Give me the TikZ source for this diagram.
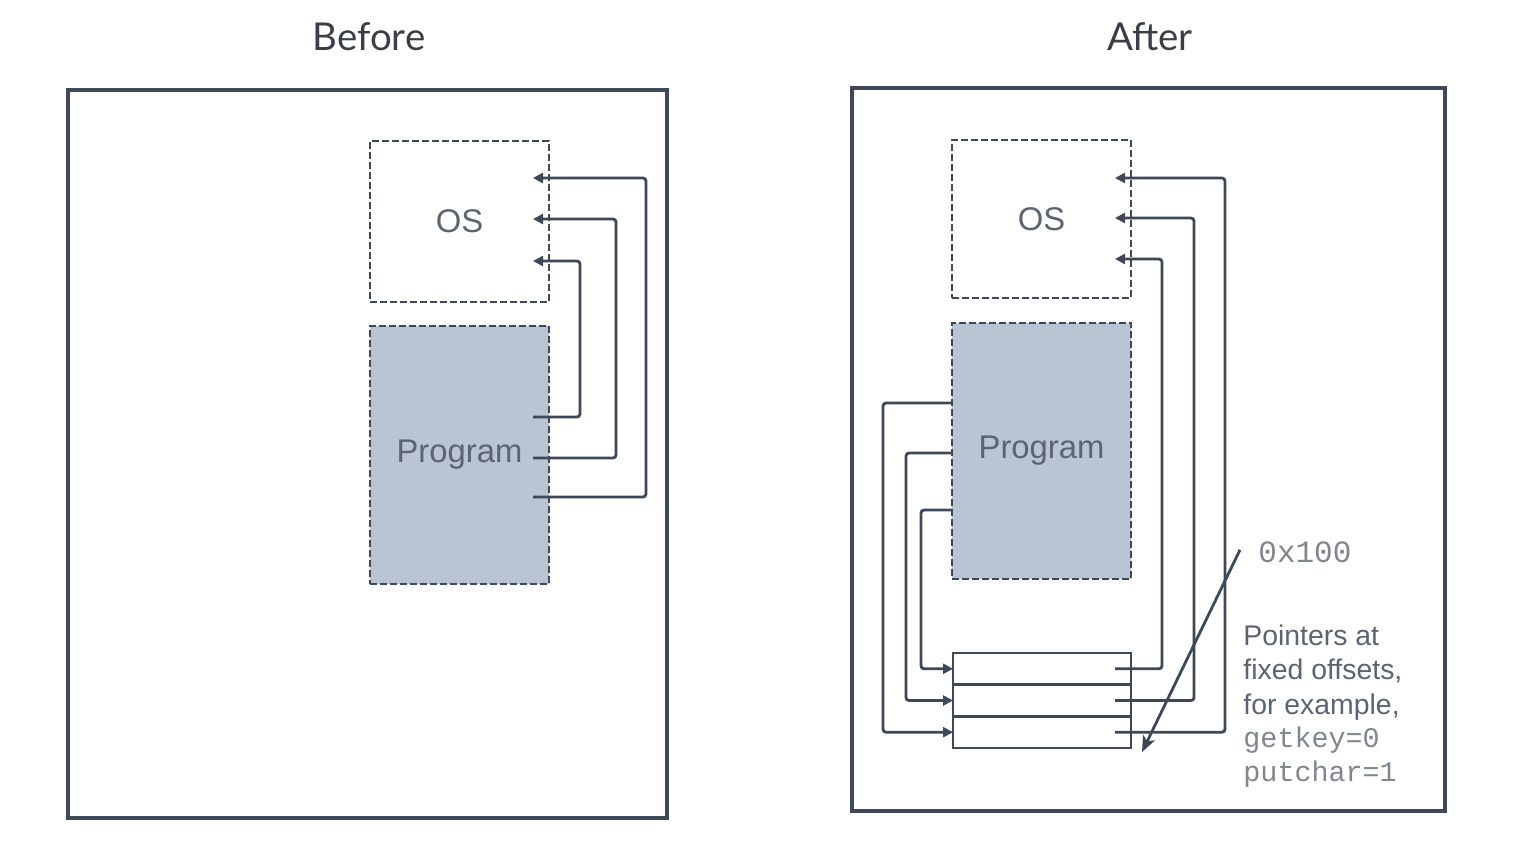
\documentclass[tikz,border=0pt]{standalone}
\usepackage{fontspec}
\setmainfont{Liberation Sans}
\newfontfamily\titlefont{Lato}
\newfontfamily\monofont{Liberation Mono}
\usetikzlibrary{arrows.meta,calc}
\definecolor{framec}{HTML}{3E4858}
\definecolor{progfill}{HTML}{BAC5D3}
\definecolor{lblc}{HTML}{5C6472}
\definecolor{monoc}{HTML}{80868F}
\definecolor{titlec}{HTML}{3A3F47}
\begin{document}
\begin{tikzpicture}[x=0.5pt,y=-0.5pt,
  panel/.style={draw=framec,line width=2.1pt,fill=white,inner sep=0pt,outer sep=0pt},
  membox/.style={draw=framec,line width=1.4pt,dash pattern=on 3.3pt off 1.7pt,
    inner sep=0pt,outer sep=0pt,minimum width=89.5pt,text=lblc,font=\fontsize{16.4}{18}\selectfont},
  rowbox/.style={draw=framec,line width=1.4pt,inner sep=0pt,outer sep=0pt,minimum width=89pt,minimum height=15.85pt,fill=white},
  conn/.style={draw=framec,line width=1.4pt,rounded corners=1.5pt},
  tip/.style={-{Triangle[length=5pt,width=5pt]}},
  bigtip/.style={-{Stealth[length=8pt,width=6.5pt,inset=2pt]}},
  ttl/.style={text=titlec,font=\titlefont\fontsize{19.2}{22}\selectfont,anchor=base},
  note/.style={text=lblc,anchor=base west,inner sep=0pt,font=\fontsize{14.2}{16}\selectfont},
  mnote/.style={text=monoc,anchor=base west,inner sep=0pt,font=\monofont\fontsize{14.2}{16}\selectfont}
]
\useasboundingbox (0,0) rectangle (1524,846);

% titles
\node[ttl] (tB) at (369,50) {Before};
\node[ttl] (tA) at (1150,50) {After};

% ---------- Before ----------
\node[panel,minimum width=299.5pt,minimum height=364pt] (frameB) at (367.5,454) {};
\node[membox,minimum height=80.5pt,fill=white] (osB) at (459.5,221.5) {OS};
\node[membox,minimum height=129pt,fill=progfill] (progB) at (459.5,455) {Program};

\draw[conn,tip] ($(progB.north east)+(-16,171)$) -| (646,178) -- ($(osB.north east)+(-16,37)$);
\draw[conn,tip] ($(progB.north east)+(-16,132)$) -| (616,219) -- ($(osB.north east)+(-16,78)$);
\draw[conn,tip] ($(progB.north east)+(-16,91)$) -| (580,261) -- ($(osB.north east)+(-16,120)$);

% ---------- After ----------
\node[panel,minimum width=296.5pt,minimum height=361.5pt] (frameA) at (1148.5,449.5) {};
\node[membox,minimum height=79pt,fill=white] (osA) at (1041.5,219) {OS};
\node[membox,minimum height=128pt,fill=progfill] (progA) at (1041.5,451) {Program};

\node[rowbox] (row1) at (1042,668.8) {};
\node[rowbox] (row2) at (1042,700.5) {};
\node[rowbox] (row3) at (1042,732.2) {};

% table -> OS
\draw[conn,tip] ($(row3.east)+(-16,0)$) -| (1225,178) -- ($(osA.north east)+(-16,38)$);
\draw[conn,tip] ($(row2.east)+(-16,0)$) -| (1194,218) -- ($(osA.north east)+(-16,78)$);
\draw[conn,tip] ($(row1.east)+(-16,0)$) -| (1162,259) -- ($(osA.north east)+(-16,119)$);

% program -> table
\draw[conn,tip] ($(progA.north west)+(0,80)$) -| (883,732.2) -- (row3.west);
\draw[conn,tip] ($(progA.north west)+(0,130)$) -| (906,700.5) -- (row2.west);
\draw[conn,tip] ($(progA.north west)+(0,187)$) -| (921,668.8) -- (row1.west);

% labels
\node[mnote,font=\monofont\fontsize{15.5}{17}\selectfont] (hex) at (1258,562) {0x100};
\draw[draw=framec,line width=1.4pt,bigtip] ($(hex.west)+(-18,-2)$) -- ($(row3.south east)+(11,4)$);

\node[note] (n1) at (1243,645) {Pointers at};
\node[note] (n2) at (1243,679.5) {fixed offsets,};
\node[note] (n3) at (1243,714) {for example,};
\node[mnote] (n4) at (1243,747) {getkey=0};
\node[mnote] (n5) at (1243,781.5) {putchar=1};
\end{tikzpicture}
\end{document}
